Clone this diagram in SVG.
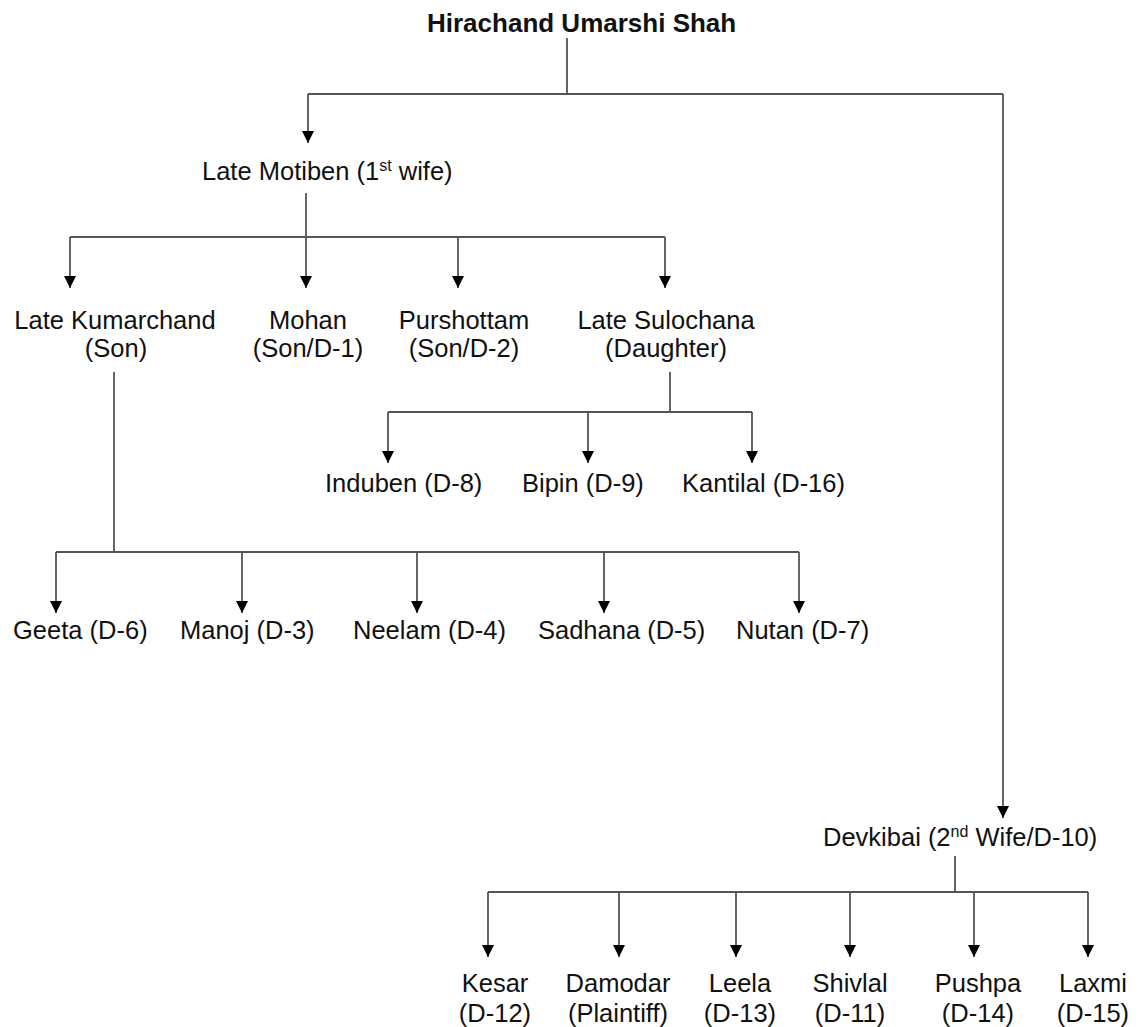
<svg xmlns="http://www.w3.org/2000/svg" width="1140" height="1027" viewBox="0 0 1140 1027">
<style>
.t{font-family:"Liberation Sans",Arial,sans-serif;font-size:25.5px;fill:#111}
.b{font-weight:bold;font-size:26px}
.m{text-anchor:middle}
.sup{font-size:16px}
.c{stroke:#555;stroke-width:1.8;fill:none}
.a{marker-end:url(#ah)}
</style>
<defs>
<marker id="ah" markerUnits="userSpaceOnUse" viewBox="0 -6 12 12" refX="12" refY="0" markerWidth="12" markerHeight="12" orient="auto">
<path d="M0,-6 L12,0 L0,6 z" fill="#000"/>
</marker>
</defs>
<rect width="1140" height="1027" fill="#fff"/>
<g id="connectors">
<path class="c" d="M567,38 V94 M308,94 H1003"/>
<path class="c a" d="M308,94 V143"/>
<path class="c a" d="M1003,94 V818"/>
<path class="c" d="M70,237 H665"/>
<path class="c a" d="M306,193 V288"/>
<path class="c a" d="M70,237 V288"/>
<path class="c a" d="M458,237 V288"/>
<path class="c a" d="M665,237 V288"/>
<path class="c" d="M670,372 V412 M388,412 H752"/>
<path class="c a" d="M388,412 V463"/>
<path class="c a" d="M588,412 V463"/>
<path class="c a" d="M752,412 V463"/>
<path class="c" d="M114,372 V552 M56,552 H799"/>
<path class="c a" d="M56,552 V613"/>
<path class="c a" d="M242,552 V613"/>
<path class="c a" d="M417,552 V613"/>
<path class="c a" d="M604,552 V613"/>
<path class="c a" d="M799,552 V613"/>
<path class="c" d="M955,856 V892 M488,892 H1088"/>
<path class="c a" d="M488,892 V957"/>
<path class="c a" d="M619,892 V957"/>
<path class="c a" d="M736,892 V957"/>
<path class="c a" d="M850,892 V957"/>
<path class="c a" d="M974,892 V957"/>
<path class="c a" d="M1088,892 V957"/>
</g>
<g id="hirachand"><text class="t b" x="427" y="32">Hirachand Umarshi Shah</text></g>
<g id="motiben"><text class="t" x="202" y="180">Late Motiben (1<tspan class="sup" dy="-9">st</tspan><tspan dy="9"> wife)</tspan></text></g>
<g id="kumarchand"><text class="t m" x="115" y="329">Late Kumarchand</text><text class="t m" x="116" y="357">(Son)</text></g>
<g id="mohan"><text class="t m" x="308" y="329">Mohan</text><text class="t m" x="308" y="357">(Son/D-1)</text></g>
<g id="purshottam"><text class="t m" x="464" y="329">Purshottam</text><text class="t m" x="464" y="357">(Son/D-2)</text></g>
<g id="sulochana"><text class="t m" x="666" y="329">Late Sulochana</text><text class="t m" x="666" y="357">(Daughter)</text></g>
<g id="induben"><text class="t" x="325" y="492">Induben (D-8)</text></g>
<g id="bipin"><text class="t" x="522" y="492">Bipin (D-9)</text></g>
<g id="kantilal"><text class="t" x="682" y="492">Kantilal (D-16)</text></g>
<g id="geeta"><text class="t" x="13" y="639">Geeta (D-6)</text></g>
<g id="manoj"><text class="t" x="180" y="639">Manoj (D-3)</text></g>
<g id="neelam"><text class="t" x="353" y="639">Neelam (D-4)</text></g>
<g id="sadhana"><text class="t" x="538" y="639">Sadhana (D-5)</text></g>
<g id="nutan"><text class="t" x="736" y="639">Nutan (D-7)</text></g>
<g id="devkibai"><text class="t" x="823" y="846">Devkibai (2<tspan class="sup" dy="-9">nd</tspan><tspan dy="9"> Wife/D-10)</tspan></text></g>
<g id="kesar"><text class="t m" x="495" y="992">Kesar</text><text class="t m" x="495" y="1022">(D-12)</text></g>
<g id="damodar"><text class="t m" x="618" y="992">Damodar</text><text class="t m" x="618" y="1022">(Plaintiff)</text></g>
<g id="leela"><text class="t m" x="740" y="992">Leela</text><text class="t m" x="740" y="1022">(D-13)</text></g>
<g id="shivlal"><text class="t m" x="850" y="992">Shivlal</text><text class="t m" x="850" y="1022">(D-11)</text></g>
<g id="pushpa"><text class="t m" x="978" y="992">Pushpa</text><text class="t m" x="978" y="1022">(D-14)</text></g>
<g id="laxmi"><text class="t m" x="1093" y="992">Laxmi</text><text class="t m" x="1093" y="1022">(D-15)</text></g>
</svg>
